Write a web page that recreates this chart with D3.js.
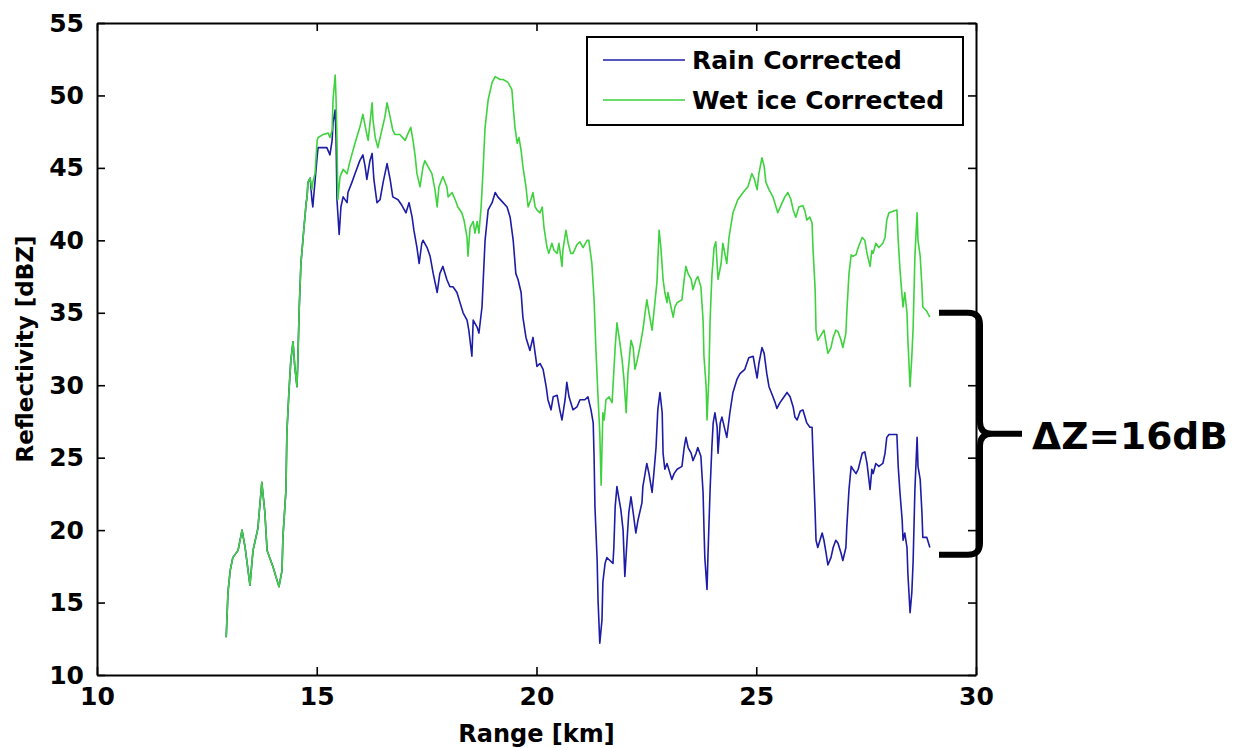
<!DOCTYPE html>
<html>
<head>
<meta charset="utf-8">
<script src="https://cdn.jsdelivr.net/npm/d3@7"></script>
<style>
  html, body { margin: 0; padding: 0; background: #fff; }
  svg { display: block; }
  text { font-family: "DejaVu Sans", sans-serif; font-weight: bold; fill: #000; }
</style>
</head>
<body>
<svg id="chart" width="1234" height="748"></svg>
<script>
// ---------------- data ----------------
const xTicks = [10, 15, 20, 25, 30];
const yTicks = [10, 15, 20, 25, 30, 35, 40, 45, 50, 55];
const seriesNames = ["Rain Corrected", "Wet ice Corrected"];
const xLabel = "Range [km]";
const yLabel = "Reflectivity [dBZ]";
const annotationLabel = "\u0394Z=16dB";
const annotationTop = 35.0;     // dBZ
const annotationBottom = 18.3;  // dBZ

const wetIceRange = [
  12.94,12.98,13.03,13.09,13.21,13.30,13.37,13.48,13.55,13.66,
  13.75,13.82,13.87,14.00,14.14,14.21,14.23,14.30,14.32,14.37,
  14.41,14.46,14.50,14.55,14.57,14.60,14.64,14.71,14.76,14.78,
  14.80,14.85,14.89,14.91,14.96,15.01,15.03,15.14,15.26,15.30,
  15.35,15.37,15.42,15.44,15.46,15.48,15.53,15.60,15.69,15.76,
  15.87,15.98,16.05,16.12,16.17,16.26,16.28,16.33,16.39,16.48,
  16.55,16.60,16.67,16.73,16.78,16.89,17.01,17.08,17.14,17.19,
  17.24,17.28,17.35,17.42,17.46,17.53,17.62,17.69,17.74,17.78,
  17.87,17.96,17.99,18.08,18.15,18.21,18.30,18.35,18.42,18.44,
  18.49,18.56,18.60,18.65,18.69,18.74,18.78,18.83,18.90,18.99,
  19.06,19.17,19.24,19.35,19.44,19.47,19.51,19.56,19.60,19.65,
  19.69,19.76,19.81,19.87,19.92,19.97,20.01,20.08,20.13,20.17,
  20.24,20.28,20.35,20.40,20.47,20.51,20.58,20.60,20.67,20.72,
  20.78,20.83,20.92,20.99,21.06,21.15,21.19,21.26,21.31,21.35,
  21.40,21.44,21.47,21.51,21.54,21.58,21.65,21.72,21.74,21.79,
  21.83,21.88,21.95,21.99,22.04,22.08,22.15,22.20,22.24,22.29,
  22.35,22.42,22.51,22.56,22.63,22.67,22.74,22.79,22.83,22.88,
  22.92,22.97,22.99,23.06,23.11,23.15,23.20,23.31,23.36,23.40,
  23.45,23.52,23.56,23.63,23.67,23.74,23.79,23.81,23.86,23.88,
  23.92,23.95,23.99,24.04,24.08,24.13,24.20,24.24,24.33,24.38,
  24.47,24.58,24.70,24.81,24.90,24.95,25.02,25.06,25.13,25.18,
  25.22,25.29,25.38,25.45,25.49,25.59,25.65,25.72,25.79,25.84,
  25.90,25.97,26.06,26.11,26.15,26.22,26.27,26.29,26.34,26.36,
  26.40,26.50,26.54,26.59,26.63,26.70,26.75,26.81,26.86,26.93,
  26.97,27.04,27.06,27.11,27.16,27.20,27.27,27.32,27.41,27.47,
  27.52,27.59,27.63,27.66,27.72,27.79,27.88,27.93,27.97,28.02,
  28.11,28.20,28.23,28.27,28.32,28.34,28.38,28.43,28.45,28.50,
  28.54,28.57,28.61,28.66,28.68,28.73,28.77,28.79,28.88,28.95
];
const wetIceZ = [
  12.6,15.7,17.2,18.1,18.6,20.0,18.8,16.2,18.6,20.1,
  23.3,21.2,18.6,17.5,16.1,17.2,19.5,22.8,26.7,29.7,
  31.7,33.0,31.3,29.9,31.7,35.2,38.4,40.9,42.6,43.0,
  44.0,44.3,43.5,44.0,44.6,46.9,47.1,47.3,47.4,47.1,
  47.6,49.7,51.4,49.7,46.9,42.8,44.4,44.9,44.6,45.5,
  46.7,47.8,48.7,47.6,46.9,49.5,48.3,47.1,46.4,47.6,
  48.5,49.5,48.5,47.6,47.3,47.3,46.9,47.4,47.8,46.9,
  45.8,44.6,43.7,45.1,45.5,45.1,44.6,43.5,42.3,43.7,
  44.4,43.7,43.0,43.3,42.8,42.3,41.9,41.4,40.2,38.9,
  40.9,41.3,40.5,41.3,40.5,42.3,44.6,47.8,49.7,50.9,
  51.3,51.1,51.1,50.9,50.4,49.2,47.8,46.7,47.1,46.2,
  45.1,43.7,42.3,42.8,43.3,42.3,42.1,41.9,42.3,40.9,
  39.5,39.1,39.8,39.3,39.1,39.8,38.2,39.3,40.7,39.8,
  39.1,39.1,39.7,39.9,39.5,40.0,40.0,38.4,35.9,32.6,
  29.2,26.7,23.1,28.1,27.6,29.0,29.2,28.8,29.9,32.6,
  34.3,33.3,31.7,30.4,28.1,30.8,33.1,32.6,31.1,31.7,
  32.6,33.8,35.9,35.0,33.8,35.0,37.1,40.7,39.5,37.3,
  36.4,35.7,36.4,35.4,34.7,35.4,35.7,35.9,37.3,38.2,
  37.7,37.3,36.6,37.3,37.5,36.8,34.5,32.0,29.9,27.6,
  30.4,34.5,37.5,39.5,39.9,37.3,38.4,39.8,38.4,40.2,
  41.9,42.8,43.3,43.7,44.6,44.3,43.5,44.6,45.7,45.1,
  44.0,43.5,43.0,42.3,41.9,42.6,43.0,43.3,42.8,42.1,
  41.6,42.3,42.4,42.0,41.4,41.6,41.2,39.5,36.6,33.8,
  33.1,33.6,33.8,32.9,32.2,32.6,33.3,33.8,33.7,33.1,
  32.6,33.6,35.0,37.7,39.0,38.9,39.0,39.5,40.2,40.0,
  39.1,38.2,39.3,39.1,39.8,39.5,39.8,40.2,41.4,41.9,
  42.0,42.1,40.0,38.0,36.1,35.4,36.4,35.0,33.1,29.9,
  32.0,34.0,38.9,41.9,40.0,38.9,36.8,35.4,35.1,34.7
];

const rainRange = [
  12.94,12.98,13.03,13.09,13.21,13.30,13.37,13.48,13.55,13.66,
  13.75,13.82,13.87,14.00,14.14,14.21,14.23,14.30,14.32,14.37,
  14.41,14.46,14.50,14.55,14.57,14.60,14.64,14.71,14.76,14.78,
  14.80,14.85,14.89,14.91,15.01,15.03,15.23,15.30,15.35,15.37,
  15.42,15.44,15.46,15.51,15.55,15.60,15.69,15.71,15.80,15.87,
  15.98,16.05,16.10,16.14,16.21,16.26,16.30,16.37,16.44,16.51,
  16.60,16.67,16.73,16.85,16.94,17.03,17.10,17.17,17.21,17.28,
  17.33,17.39,17.42,17.51,17.58,17.65,17.74,17.80,17.87,17.96,
  18.03,18.10,18.19,18.26,18.33,18.42,18.46,18.53,18.56,18.65,
  18.69,18.76,18.83,18.90,18.99,19.06,19.12,19.24,19.33,19.40,
  19.47,19.53,19.58,19.65,19.69,19.76,19.85,19.92,20.01,20.08,
  20.15,20.22,20.26,20.33,20.38,20.47,20.53,20.58,20.65,20.69,
  20.74,20.83,20.92,20.99,21.10,21.17,21.24,21.29,21.31,21.33,
  21.38,21.40,21.44,21.49,21.51,21.56,21.60,21.67,21.74,21.76,
  21.79,21.83,21.88,21.92,21.97,22.01,22.06,22.10,22.15,22.20,
  22.26,22.31,22.40,22.42,22.51,22.56,22.63,22.67,22.72,22.76,
  22.81,22.86,22.88,22.92,22.97,22.99,23.08,23.13,23.20,23.31,
  23.36,23.40,23.45,23.52,23.56,23.63,23.67,23.74,23.79,23.81,
  23.83,23.88,23.90,23.95,23.99,24.02,24.06,24.11,24.13,24.18,
  24.22,24.29,24.33,24.40,24.47,24.56,24.63,24.74,24.83,24.93,
  24.97,25.02,25.06,25.13,25.18,25.24,25.29,25.38,25.43,25.47,
  25.54,25.61,25.70,25.77,25.84,25.88,25.93,26.00,26.06,26.11,
  26.15,26.22,26.27,26.29,26.34,26.36,26.40,26.50,26.54,26.59,
  26.63,26.70,26.75,26.81,26.86,26.93,26.97,27.04,27.06,27.11,
  27.16,27.20,27.27,27.32,27.41,27.47,27.52,27.59,27.63,27.66,
  27.72,27.79,27.88,27.93,27.97,28.02,28.11,28.20,28.23,28.27,
  28.32,28.34,28.38,28.43,28.45,28.50,28.54,28.57,28.61,28.66,
  28.68,28.73,28.77,28.79,28.88,28.95
];
const rainZ = [
  12.6,15.7,17.2,18.1,18.6,20.0,18.8,16.2,18.6,20.1,
  23.3,21.2,18.6,17.5,16.1,17.2,19.5,22.8,26.7,29.7,
  31.7,33.0,31.3,29.9,31.7,35.2,38.4,40.9,42.6,43.0,
  44.0,44.3,42.8,42.3,45.8,46.4,46.4,45.9,46.9,48.1,
  49.0,46.9,42.8,40.4,42.3,43.0,42.6,43.3,44.0,44.6,
  45.5,45.9,45.1,44.2,45.5,46.0,44.2,42.6,42.8,44.0,
  45.3,44.2,43.0,42.8,42.4,41.9,42.6,41.6,40.7,39.5,
  38.4,39.8,40.0,39.5,38.9,37.7,36.4,37.7,38.2,37.3,
  36.8,36.8,36.4,35.7,35.0,34.5,33.8,32.0,34.5,34.0,
  33.6,35.4,40.0,42.1,42.6,43.3,43.0,42.6,42.3,41.6,
  40.0,37.7,37.3,36.4,34.7,33.3,32.4,33.3,31.3,31.5,
  31.1,29.9,29.0,28.3,29.2,29.3,28.3,27.6,29.0,30.2,
  29.2,28.3,28.5,29.0,29.0,29.2,28.3,27.4,25.1,21.6,
  17.9,15.2,12.2,13.8,16.4,17.7,18.1,17.9,17.7,18.8,
  21.6,23.0,22.1,21.4,20.0,16.8,19.3,21.2,22.3,21.2,
  19.8,20.7,21.9,23.0,24.6,23.9,22.6,23.9,25.7,28.3,
  29.5,28.1,25.3,24.2,24.6,24.4,23.5,23.9,24.2,24.4,
  25.7,26.4,25.7,25.3,24.8,25.3,25.7,25.1,22.6,20.2,
  18.1,15.9,18.1,22.8,25.7,27.4,28.1,27.1,25.3,27.4,
  27.8,26.9,26.4,28.1,29.5,30.4,30.8,31.1,31.9,32.0,
  31.3,30.5,31.5,32.6,32.2,30.8,29.9,29.2,28.8,28.4,
  28.8,29.1,29.5,29.2,28.5,27.8,27.6,28.2,28.3,27.8,
  27.4,27.1,27.1,25.3,21.2,19.3,18.8,19.8,19.3,18.4,
  17.6,18.1,18.8,19.3,19.1,18.4,17.9,18.8,20.2,22.8,
  24.4,24.2,23.9,24.2,25.3,25.4,24.6,22.8,24.2,23.9,
  24.6,24.4,24.6,25.3,26.4,26.6,26.6,26.6,24.4,22.6,
  20.7,19.3,19.8,18.8,17.0,14.3,15.7,17.9,22.8,26.4,
  24.4,23.5,21.2,19.5,19.5,18.8
];

// ---------------- layout ----------------
const svg = d3.select("#chart");
const margin = { left: 97, top: 23, right: 1234 - 976, bottom: 748 - 675 };
const W = 1234 - margin.left - margin.right;
const H = 748 - margin.top - margin.bottom;

const x = d3.scaleLinear().domain([10, 30]).range([margin.left, margin.left + W]);
const y = d3.scaleLinear().domain([10, 55]).range([margin.top + H, margin.top]);

const colors = { rain: "#1c1ca6", wet: "#3ed23e" };

const g = svg.append("g");

// data lines (rain first, wet ice drawn on top)
const line = d3.line().x(d => x(d[0])).y(d => y(d[1]));
const rainData = d3.zip(rainRange, rainZ);
const wetData = d3.zip(wetIceRange, wetIceZ);

g.append("path").datum(rainData)
  .attr("d", line).attr("fill", "none")
  .attr("stroke", colors.rain).attr("stroke-width", 1.6).attr("stroke-linejoin", "round");
g.append("path").datum(wetData)
  .attr("d", line).attr("fill", "none")
  .attr("stroke", colors.wet).attr("stroke-width", 1.6).attr("stroke-linejoin", "round");

// axes (ticks inside, box)
const fontTick = 25;
function styleAxis(sel) {
  sel.select(".domain").attr("stroke", "#000").attr("stroke-width", 2);
  sel.selectAll(".tick line").attr("stroke", "#000").attr("stroke-width", 1.6);
  sel.selectAll(".tick text")
    .attr("font-family", "DejaVu Sans, sans-serif")
    .attr("font-weight", "bold")
    .attr("font-size", fontTick)
    .attr("fill", "#000");
}

g.append("g").attr("transform", `translate(0,${margin.top + H})`)
  .call(d3.axisBottom(x).tickValues(xTicks).tickSize(-8).tickSizeOuter(0).tickPadding(12).tickFormat(d3.format("d")))
  .call(styleAxis);
g.append("g").attr("transform", `translate(${margin.left},0)`)
  .call(d3.axisLeft(y).tickValues(yTicks).tickSize(-8).tickSizeOuter(0).tickPadding(13).tickFormat(d3.format("d")))
  .call(styleAxis);
g.append("g").attr("transform", `translate(0,${margin.top})`)
  .call(d3.axisTop(x).tickValues(xTicks).tickSize(-8).tickSizeOuter(0).tickFormat(""))
  .call(styleAxis);
g.append("g").attr("transform", `translate(${margin.left + W},0)`)
  .call(d3.axisRight(y).tickValues(yTicks).tickSize(-8).tickSizeOuter(0).tickFormat(""))
  .call(styleAxis);

// axis labels
svg.append("text")
  .attr("x", x(20)).attr("y", 742)
  .attr("text-anchor", "middle")
  .attr("font-size", 24)
  .text(xLabel);
svg.append("text")
  .attr("transform", `translate(33,${y(32.5)}) rotate(-90)`)
  .attr("text-anchor", "middle")
  .attr("font-size", 23)
  .text(yLabel);

// legend
const legend = svg.append("g");
legend.append("rect")
  .attr("x", 587).attr("y", 37).attr("width", 376).attr("height", 88)
  .attr("fill", "#fff").attr("stroke", "#000").attr("stroke-width", 2);
const legendColors = [colors.rain, colors.wet];
seriesNames.forEach((name, i) => {
  const ly = 60 + i * 40;
  legend.append("line")
    .attr("x1", 603).attr("x2", 685).attr("y1", ly).attr("y2", ly)
    .attr("stroke", legendColors[i]).attr("stroke-width", 1.6);
  legend.append("text")
    .attr("x", 692).attr("y", ly + 9)
    .attr("font-size", 25)
    .text(name);
});

// curly brace annotation
const yTop = y(annotationTop), yBot = y(annotationBottom), yMid = (yTop + yBot) / 2;
const bx0 = 939, bx1 = 980, tip = 1022;
const brace = d3.path();
brace.moveTo(bx0, yTop);
brace.lineTo(bx1 - 12, yTop);
brace.quadraticCurveTo(bx1, yTop, bx1, yTop + 12);
brace.lineTo(bx1, yMid - 12);
brace.quadraticCurveTo(bx1, yMid, bx1 + 12, yMid);
brace.lineTo(tip, yMid);
brace.moveTo(bx1 + 12, yMid);
brace.quadraticCurveTo(bx1, yMid, bx1, yMid + 12);
brace.lineTo(bx1, yBot - 12);
brace.quadraticCurveTo(bx1, yBot, bx1 - 12, yBot);
brace.lineTo(bx0, yBot);
svg.append("path").attr("d", brace.toString())
  .attr("fill", "none").attr("stroke", "#000").attr("stroke-width", 6)
  .attr("stroke-linejoin", "round");

svg.append("text")
  .attr("x", 1032).attr("y", yMid + 15)
  .attr("font-size", 38)
  .attr("textLength", 196).attr("lengthAdjust", "spacingAndGlyphs")
  .text(annotationLabel);
</script>
</body>
</html>
